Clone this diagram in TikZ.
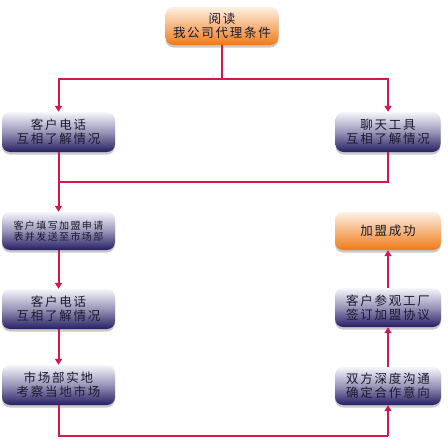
\documentclass[tikz,border=0pt]{standalone}
\usepackage{fontspec}
\newfontfamily\cjk[LetterSpace=14]{Noto Sans CJK SC}
\usetikzlibrary{shadows,arrows.meta}
\definecolor{linec}{RGB}{212,24,74}
\definecolor{navy}{RGB}{38,30,100}
\definecolor{navytop}{RGB}{246,246,252}
\definecolor{orng}{RGB}{240,122,24}
\definecolor{orngtop}{RGB}{253,240,228}
\definecolor{txt}{RGB}{25,25,45}
\tikzset{
  box/.style={rounded corners=8pt, minimum height=39pt, inner sep=0pt,
    align=center, text=txt, font=\cjk\fontsize{12.5}{14}\selectfont,
    drop shadow={shadow xshift=0pt, shadow yshift=-2.5pt, opacity=0.35, fill=black!60}},
  bluebox/.style={box, top color=navytop, bottom color=navy, middle color=navytop!55!navy},
  orangebox/.style={box, top color=orngtop, bottom color=orng, middle color=orngtop!50!orng},
  conn/.style={draw=linec, line width=2pt},
  arr/.style={conn, -{Triangle[width=7pt,length=6pt]}}
}
\begin{document}
\begin{tikzpicture}[x=1pt,y=-1pt]
\useasboundingbox[fill=white] (0,0) rectangle (448,439);
\node[orangebox, minimum width=113pt, minimum height=38pt] (top) at (222,26) {阅读\\我公司代理条件};
\node[bluebox, minimum width=113pt, minimum height=40pt] (l1) at (58.5,132) {客户电话\\互相了解情况};
\node[bluebox, minimum width=105pt, minimum height=40pt] (r1) at (388,132) {聊天工具\\互相了解情况};
\node[bluebox, minimum width=113pt, minimum height=38pt, font=\cjk\fontsize{10}{11.5}\selectfont] (l2) at (58.5,231) {客户填写加盟申请\\表并发送至市场部};
\node[bluebox, minimum width=113pt, minimum height=40pt] (l3) at (58.5,309) {客户电话\\互相了解情况};
\node[bluebox, minimum width=113pt, minimum height=40pt] (l4) at (58.5,385) {市场部实地\\考察当地市场};
\node[bluebox, minimum width=106pt, minimum height=38pt] (r4) at (388,386) {双方深度沟通\\确定合作意向};
\node[bluebox, minimum width=106pt, minimum height=39pt] (r3) at (388,307.5) {客户参观工厂\\签订加盟协议};
\node[orangebox, minimum width=106pt, minimum height=38pt] (r2) at (388,231) {加盟成功};
\coordinate (s1) at (222,79);
\coordinate (j1) at (58.5,182);
\coordinate (b1) at (388,436);
\draw[conn] (top) -- (s1);
\draw[arr] (s1) -| (l1);
\draw[arr] (s1) -| (r1);
\draw[conn] (r1) |- (j1);
\draw[arr] (l1) -- (l2);
\draw[arr] (l2) -- (l3);
\draw[arr] (l3) -- (l4);
\draw[conn] (l4) |- (b1);
\draw[arr] (b1) -- (r4);
\draw[arr] (r4) -- (r3);
\draw[arr] (r3) -- (r2);
\end{tikzpicture}
\end{document}
